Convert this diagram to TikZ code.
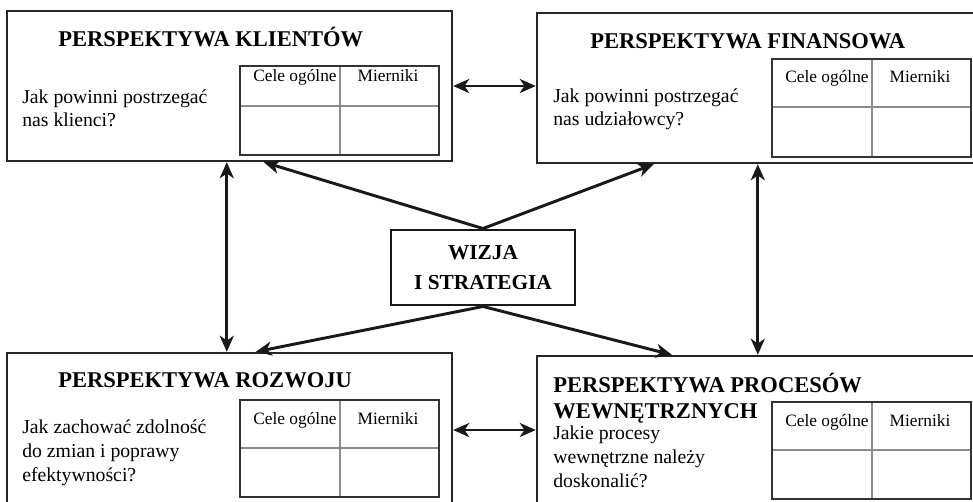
\documentclass[tikz,border=0pt]{standalone}
\usepackage{fontspec}
\setmainfont{Liberation Serif}
\usetikzlibrary{arrows.meta,calc}

\tikzset{
  persp/.style={draw=black!85, line width=1.8pt, minimum width=445*0.75pt,
    minimum height=150*0.75pt, inner sep=0pt},
  tytul/.style={font=\bfseries\fontsize{16.9}{19.5}\selectfont, anchor=base west,
    align=left, inner sep=0pt},
  pytanie/.style={font=\fontsize{14.8}{17.8}\selectfont, anchor=base west,
    align=left, inner sep=0pt},
  tabela/.style={draw=black!80, line width=0.9pt},
  siatka/.style={draw=black!45, line width=0.9pt},
  naglowek/.style={font=\fontsize{13}{15}\selectfont, anchor=base, inner sep=0pt},
  grot/.tip={Stealth[length=12pt,width=10.5pt,inset=3.5pt]},
  strzalka/.style={line width=2.2pt, draw=black!90, -grot},
  dwustr/.style={strzalka, grot-grot}
}

% tabela: nazwa, x lewy, y gorny, wysokosc wiersza, wysokosc calosci
\newcommand{\tabela}[5]{%
  \draw[tabela] (#2,#3) rectangle ++(199,#5);
  \draw[siatka] (#2+100,#3+1) -- ++(0,#5-2);
  \draw[siatka] (#2+1,#3+#4) -- ++(197,0);
  \node[naglowek] (#1-cele) at (#2+55,#3+#4-24) {Cele ogólne};
  \node[naglowek] (#1-mier) at (#2+148,#3+#4-24) {Mierniki};
}

\begin{document}
\begin{tikzpicture}[x=0.75pt, y=-0.75pt]
  \useasboundingbox (0,0) rectangle (973,502);
  \clip (0,0) rectangle (973,502);

  % Perspektywy
  \node[persp] (kl) at (229.5,86) {};
  \node[persp, minimum width=448*0.75pt] (fin) at (761,88) {};
  \node[persp, minimum height=154*0.75pt] (roz) at (229.5,430) {};
  \node[persp, minimum width=448*0.75pt, minimum height=154*0.75pt] (proc) at (761,433) {};

  % Wizja i strategia
  \node[draw=black!90, line width=2.2pt, minimum width=184*0.75pt, minimum height=75*0.75pt,
    align=center, font=\bfseries\fontsize{16}{22.5}\selectfont] (wiz) at (483,267.5)
    {WIZJA\\I STRATEGIA};

  % Klienci
  \node[tytul] (kl-tytul) at (58,47) {PERSPEKTYWA KLIENTÓW};
  \node[pytanie] (kl-pytanie) at (22,127) {Jak powinni postrzegać\\nas klienci?};
  \tabela{kl}{240}{66}{40}{89}

  % Finanse
  \node[tytul] (fin-tytul) at (590,49) {PERSPEKTYWA FINANSOWA};
  \node[pytanie] (fin-pytanie) at (553,126) {Jak powinni postrzegać\\nas udziałowcy?};
  \tabela{fin}{772}{59}{48}{98}

  % Rozwoj
  \node[tytul] (roz-tytul) at (58,387) {PERSPEKTYWA ROZWOJU};
  \node[pytanie] (roz-pytanie) at (22,481) {Jak zachować zdolność\\do zmian i poprawy\\efektywności?};
  \tabela{roz}{240}{400}{48}{97}

  % Procesy wewnetrzne
  \node[tytul] (proc-tytul) at (553,418) {PERSPEKTYWA PROCESÓW\\WEWNĘTRZNYCH};
  \node[pytanie] (proc-pytanie) at (553,487) {Jakie procesy\\wewnętrzne należy\\doskonalić?};
  \tabela{proc}{772}{402}{48}{97}

  % Strzalki
  \draw[strzalka] (wiz.north) -- ($(kl.south west)+(258,0)$);
  \draw[strzalka] (wiz.north) -- ($(fin.south west)+(118,0)$);
  \draw[strzalka] (wiz.south) -- ($(roz.north west)+(250,0)$);
  \draw[strzalka] (wiz.south) -- ($(proc.north west)+(136,0)$);
  \draw[dwustr] ($(kl.south west)+(221,0)$) -- ($(roz.north west)+(221,0)$);
  \draw[dwustr] ($(fin.south west)+(222,0)$) -- ($(proc.north west)+(222,0)$);
  \draw[dwustr] (kl.east) -- (kl.east -| fin.west);
  \draw[dwustr] (roz.east) -- (roz.east -| proc.west);
\end{tikzpicture}
\end{document}
